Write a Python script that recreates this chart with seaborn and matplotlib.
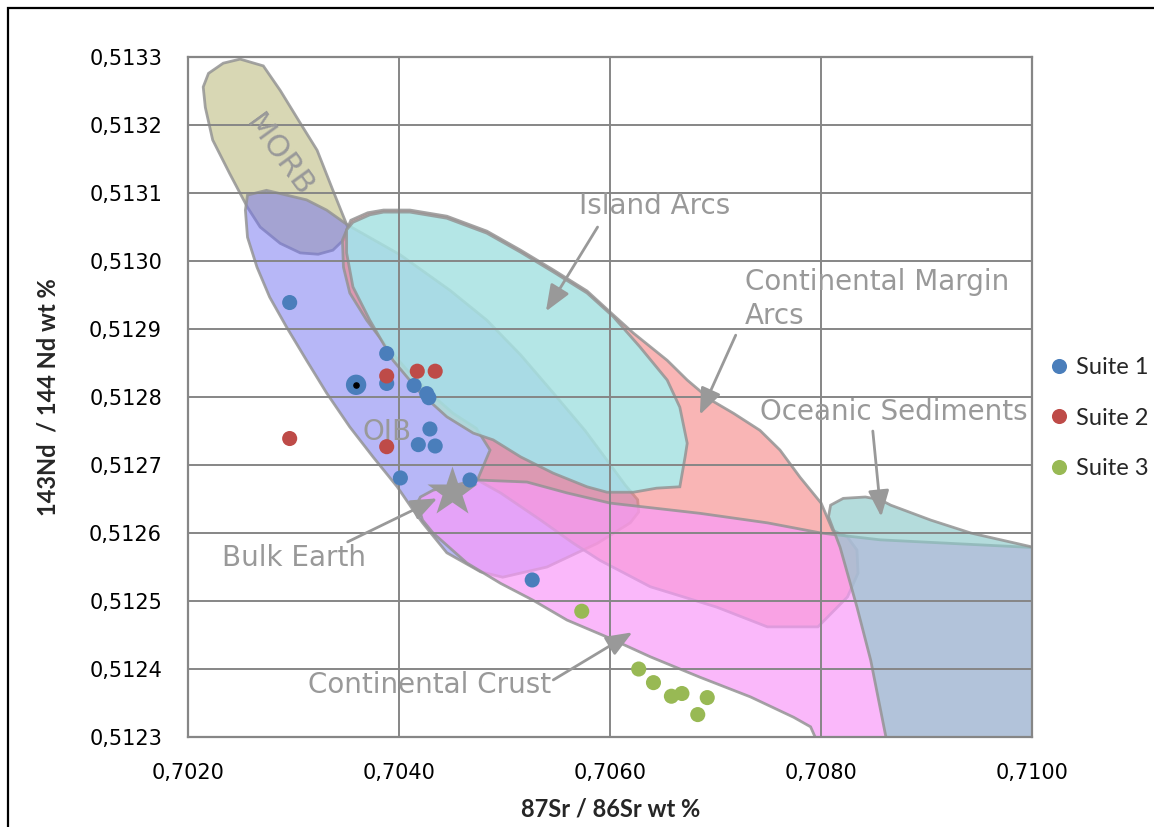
import numpy as np
import pandas as pd
import matplotlib
matplotlib.use("Agg")
import matplotlib.pyplot as plt
from matplotlib import font_manager
from matplotlib.path import Path
from matplotlib.patches import PathPatch, Polygon, Rectangle
from matplotlib.ticker import FixedLocator, FuncFormatter
import seaborn as sns

# ---------------------------------------------------------------------------
# Measured samples (87Sr/86Sr, 143Nd/144Nd)
# ---------------------------------------------------------------------------
suite1_sr = [0.70296, 0.70388, 0.70359, 0.70388, 0.70414, 0.70426, 0.70428,
             0.70429, 0.70418, 0.70434, 0.70401, 0.70467, 0.70526]
suite1_nd = [0.512939, 0.512864, 0.512818, 0.512820, 0.512817, 0.512805, 0.512799,
             0.512753, 0.512730, 0.512728, 0.512681, 0.512678, 0.512531]

suite2_sr = [0.70388, 0.70417, 0.70434, 0.70296, 0.70388]
suite2_nd = [0.512831, 0.512838, 0.512838, 0.512739, 0.512727]

suite3_sr = [0.70573, 0.70627, 0.70641, 0.70658, 0.70668, 0.70692, 0.70683]
suite3_nd = [0.512485, 0.512400, 0.512380, 0.512360, 0.512364, 0.512358, 0.512333]

suite_names = ["Suite 1", "Suite 2", "Suite 3"]

# highlighted reference sample of suite 1
highlight_sr = 0.70359
highlight_nd = 0.512818

# Bulk Earth composition
bulk_earth_sr = 0.7045
bulk_earth_nd = 0.51266

# ---------------------------------------------------------------------------
# Reservoir fields (outlines in ratio space)
# ---------------------------------------------------------------------------
morb_sr = [0.70214, 0.70219, 0.70233, 0.70249, 0.70271, 0.70287, 0.70306, 0.70322,
           0.70337, 0.70351, 0.70347, 0.70337, 0.70323, 0.70306, 0.70287, 0.70268,
           0.70256, 0.70239, 0.70223, 0.70216]
morb_nd = [0.513256, 0.513276, 0.513291, 0.513297, 0.513287, 0.513251, 0.513203, 0.513163,
           0.513104, 0.513050, 0.513031, 0.513016, 0.513010, 0.513012, 0.513026, 0.513050,
           0.513079, 0.513129, 0.513178, 0.513226]

oib_sr = [0.70256, 0.70274, 0.70293, 0.70312, 0.70331, 0.70351, 0.70401, 0.70448,
          0.70483, 0.70515, 0.70546, 0.70576, 0.70597, 0.70614, 0.70626, 0.70627,
          0.70619, 0.70588, 0.70540, 0.70498, 0.70477, 0.70445, 0.70422, 0.70413,
          0.70398, 0.70375, 0.70353, 0.70331, 0.70312, 0.70293, 0.70277, 0.70265,
          0.70256, 0.70254]
oib_nd = [0.513097, 0.513104, 0.513097, 0.513090, 0.513075, 0.513053, 0.513009, 0.512957,
          0.512913, 0.512862, 0.512806, 0.512751, 0.512707, 0.512671, 0.512649, 0.512631,
          0.512615, 0.512585, 0.512550, 0.512535, 0.512543, 0.512571, 0.512615, 0.512634,
          0.512668, 0.512712, 0.512756, 0.512806, 0.512854, 0.512903, 0.512947, 0.512991,
          0.513035, 0.513075]

arcs_sr = [0.70350, 0.70356, 0.70372, 0.70385, 0.70410, 0.70445, 0.70483, 0.70515,
           0.70546, 0.70578, 0.70603, 0.70628, 0.70654, 0.70666, 0.70673, 0.70671,
           0.70666, 0.70644, 0.70622, 0.70597, 0.70578, 0.70546, 0.70515, 0.70489,
           0.70470, 0.70445, 0.70420, 0.70394, 0.70372, 0.70356, 0.70350]
arcs_nd = [0.513046, 0.513057, 0.513068, 0.513072, 0.513072, 0.513063, 0.513041, 0.513013,
           0.512984, 0.512953, 0.512918, 0.512874, 0.512825, 0.512785, 0.512732, 0.512712,
           0.512668, 0.512666, 0.512660, 0.512660, 0.512668, 0.512688, 0.512712, 0.512737,
           0.512747, 0.512771, 0.512806, 0.512854, 0.512913, 0.512962, 0.513012]

margin_sr = [0.70346, 0.70354, 0.70370, 0.70385, 0.70410, 0.70445, 0.70483, 0.70515,
             0.70546, 0.70578, 0.70602, 0.70622, 0.70654, 0.70673, 0.70695, 0.70717,
             0.70742, 0.70761, 0.70780, 0.70800, 0.70811, 0.70825, 0.70834, 0.70835,
             0.70825, 0.70797, 0.70749, 0.70701, 0.70638, 0.70590, 0.70565, 0.70534,
             0.70496, 0.70474, 0.70486, 0.70473, 0.70451, 0.70429, 0.70410, 0.70388,
             0.70369, 0.70353, 0.70347]
margin_nd = [0.513031, 0.513060, 0.513071, 0.513075, 0.513075, 0.513066, 0.513044, 0.513016,
             0.512987, 0.512956, 0.512922, 0.512894, 0.512854, 0.512825, 0.512796, 0.512776,
             0.512751, 0.512722, 0.512682, 0.512644, 0.512604, 0.512594, 0.512575, 0.512541,
             0.512506, 0.512462, 0.512462, 0.512491, 0.512521, 0.512560, 0.512585, 0.512619,
             0.512659, 0.512678, 0.512722, 0.512754, 0.512776, 0.512806, 0.512835, 0.512874,
             0.512913, 0.512953, 0.512991]

crust_sr = [0.70417, 0.70420, 0.70432, 0.70474, 0.70521, 0.70559, 0.70600, 0.70685,
            0.70749, 0.70800, 0.70856, 0.70920, 0.71010, 0.71010, 0.70800, 0.70790,
            0.70774, 0.70733, 0.70685, 0.70638, 0.70597, 0.70559, 0.70527, 0.70496,
            0.70464, 0.70432, 0.70422]
crust_nd = [0.512644, 0.512653, 0.512663, 0.512678, 0.512675, 0.512659, 0.512644, 0.512629,
            0.512615, 0.512600, 0.512590, 0.512585, 0.512578, 0.512280, 0.512280, 0.512315,
            0.512329, 0.512359, 0.512388, 0.512418, 0.512447, 0.512472, 0.512501, 0.512526,
            0.512556, 0.512600, 0.512619]

sediment_sr = [0.70807, 0.70809, 0.70821, 0.70842, 0.70856, 0.70866, 0.70904, 0.70942,
               0.71010, 0.71010, 0.70864, 0.70847, 0.70834, 0.70818]
sediment_nd = [0.512624, 0.512641, 0.512651, 0.512653, 0.512649, 0.512641, 0.512619, 0.512600,
               0.512576, 0.512280, 0.512280, 0.512413, 0.512491, 0.512579]

x_ticks = [0.7020, 0.7040, 0.7060, 0.7080, 0.7100]
y_ticks = [0.5123, 0.5124, 0.5125, 0.5126, 0.5127, 0.5128, 0.5129, 0.5130, 0.5131, 0.5132, 0.5133]

# ---------------------------------------------------------------------------
# Styling
# ---------------------------------------------------------------------------
sns.set_style("white")
installed = {f.name for f in font_manager.fontManager.ttflist}
title_font = "Lato" if "Lato" in installed else "Liberation Sans"
plt.rcParams["font.family"] = ["DejaVu Sans"]

GRID = "#868686"
LABEL_GRAY = "#999999"
EDGE = (0.58, 0.58, 0.58, 0.85)
palette = {"Suite 1": "#4A7EBB", "Suite 2": "#BE4B48", "Suite 3": "#98B954"}

fig = plt.figure(figsize=(11.54, 8.27), dpi=100)
ax = fig.add_axes([0.1633, 0.1088, 0.7310, 0.8222])


def field(sr, nd, face, alpha, z):
    pts = np.column_stack([sr, nd])
    ax.add_patch(Polygon(pts, closed=True, facecolor=face, alpha=alpha,
                         edgecolor="none", zorder=z))
    ax.add_patch(Polygon(pts, closed=True, fill=False, edgecolor=EDGE,
                         linewidth=2.0, zorder=z + 0.001))


def signed_area(p):
    return 0.5 * np.sum(p[:, 0] * np.roll(p[:, 1], -1) - np.roll(p[:, 0], -1) * p[:, 1])


# MORB and OIB
field(morb_sr, morb_nd, "#B3B16B", 0.5, 1.00)
field(oib_sr, oib_nd, "#7171F1", 0.5, 1.01)

# Continental margin arcs: filled around the island-arc field
outer = np.column_stack([margin_sr, margin_nd])
inner = np.column_stack([arcs_sr, arcs_nd])
if np.sign(signed_area(outer)) == np.sign(signed_area(inner)):
    inner = inner[::-1]
verts = np.concatenate([outer, outer[:1], inner, inner[:1]])
codes = ([Path.MOVETO] + [Path.LINETO] * (len(outer) - 1) + [Path.CLOSEPOLY]
         + [Path.MOVETO] + [Path.LINETO] * (len(inner) - 1) + [Path.CLOSEPOLY])
ax.add_patch(PathPatch(Path(verts, codes), facecolor="#F58585", alpha=0.6,
                       edgecolor="none", zorder=1.02))
ax.add_patch(Polygon(outer, closed=True, fill=False, edgecolor=EDGE,
                     linewidth=2.0, zorder=1.021))

# Island arcs, continental crust, oceanic sediments
field(arcs_sr, arcs_nd, "#A7E2E2", 0.85, 1.03)
field(crust_sr, crust_nd, "#F99BF9", 0.7, 1.04)
field(sediment_sr, sediment_nd, "#8DCACA", 0.66, 1.05)

# ---------------------------------------------------------------------------
# Samples
# ---------------------------------------------------------------------------
df = pd.DataFrame({
    "sr": suite1_sr + suite2_sr + suite3_sr,
    "nd": suite1_nd + suite2_nd + suite3_nd,
    "suite": ([suite_names[0]] * len(suite1_sr) + [suite_names[1]] * len(suite2_sr)
              + [suite_names[2]] * len(suite3_sr)),
})
sns.scatterplot(data=df, x="sr", y="nd", hue="suite", palette=palette, s=118,
                edgecolor="none", linewidth=0, zorder=5, ax=ax)
ax.scatter([highlight_sr], [highlight_nd], s=215, color=palette["Suite 1"],
           edgecolor="none", zorder=5.1)
ax.scatter([highlight_sr], [highlight_nd], s=14, color="black", zorder=5.2)

# Bulk Earth reference
ax.plot([bulk_earth_sr], [bulk_earth_nd], marker="*", markersize=38,
        color="#999999", markeredgecolor="none", linestyle="none", zorder=4)

# ---------------------------------------------------------------------------
# Field labels and arrows
# ---------------------------------------------------------------------------
label_kw = dict(color=LABEL_GRAY, fontsize=20, zorder=3)
arrow_kw = dict(arrowstyle="-|>,head_length=1.0,head_width=0.4", color="#999999",
                lw=2.0, mutation_scale=16, shrinkA=0, shrinkB=0)

ax.text(0.70570, 0.513081, "Island Arcs", ha="left", va="center", **label_kw)
ax.annotate("", xy=(0.70539, 0.512926), xytext=(0.70588, 0.513050),
            arrowprops=arrow_kw, zorder=3)

ax.text(0.70728, 0.512944, "Continental Margin\nArcs", ha="left", va="center",
        linespacing=1.25, **label_kw)
ax.annotate("", xy=(0.70685, 0.512774), xytext=(0.70719, 0.512891),
            arrowprops=arrow_kw, zorder=3)

ax.text(0.70742, 0.512778, "Oceanic Sediments", ha="left", va="center", **label_kw)
ax.annotate("", xy=(0.70857, 0.512624), xytext=(0.70849, 0.512750),
            arrowprops=arrow_kw, zorder=3)

ax.text(0.70232, 0.512563, "Bulk Earth", ha="left", va="center", **label_kw)
ax.annotate("", xy=(0.70436, 0.512651), xytext=(0.70351, 0.512587),
            arrowprops=arrow_kw, zorder=3)

ax.text(0.70313, 0.512376, "Continental Crust", ha="left", va="center", **label_kw)
ax.annotate("", xy=(0.70621, 0.512454), xytext=(0.70546, 0.512384),
            arrowprops=arrow_kw, zorder=3)

ax.text(0.70365, 0.512749, "OIB", ha="left", va="center", **label_kw)
ax.text(0.70286, 0.513155, "MORB", ha="center", va="center", rotation=-54,
        rotation_mode="anchor", color=LABEL_GRAY, fontsize=22, zorder=3)

# ---------------------------------------------------------------------------
# Axes
# ---------------------------------------------------------------------------
ax.set_xlim(x_ticks[0], x_ticks[-1])
ax.set_ylim(y_ticks[0], y_ticks[-1])
ax.xaxis.set_major_locator(FixedLocator(x_ticks))
ax.yaxis.set_major_locator(FixedLocator(y_ticks))
ax.xaxis.set_major_formatter(FuncFormatter(lambda v, p: f"{v:.4f}".replace(".", ",")))
ax.yaxis.set_major_formatter(FuncFormatter(lambda v, p: f"{v:.4f}".replace(".", ",")))
ax.set_axisbelow("line")
ax.grid(True, color=GRID, linewidth=1.4)
for side in ax.spines.values():
    side.set_color(GRID)
    side.set_linewidth(1.6)
ax.tick_params(axis="both", direction="out", length=5, width=1.4, color=GRID,
               labelsize=15, pad=14, labelcolor="black")

ax.set_xlabel("87Sr / 86Sr wt %", fontsize=17, fontweight="bold", family=title_font,
              va="center")
ax.xaxis.set_label_coords(0.5, -0.106)
ax.set_ylabel("143Nd  / 144 Nd wt %", fontsize=17, fontweight="bold", family=title_font,
              va="center")
ax.yaxis.set_label_coords(-0.166, 0.5)

sns.move_legend(ax, "center left", bbox_to_anchor=(1.018, 0.469), title=None,
                frameon=False, prop={"family": title_font, "size": 17},
                handletextpad=0.2, labelspacing=1.25, borderaxespad=0,
                borderpad=0, handlelength=1.0)

# outer frame of the figure
fig.add_artist(Rectangle((8 / 1154, -0.2), 1.5, 1.2 - 9 / 827 + 0.001,
                         transform=fig.transFigure, fill=False,
                         edgecolor="black", linewidth=1.6))

fig.savefig("out.png", dpi=100)
